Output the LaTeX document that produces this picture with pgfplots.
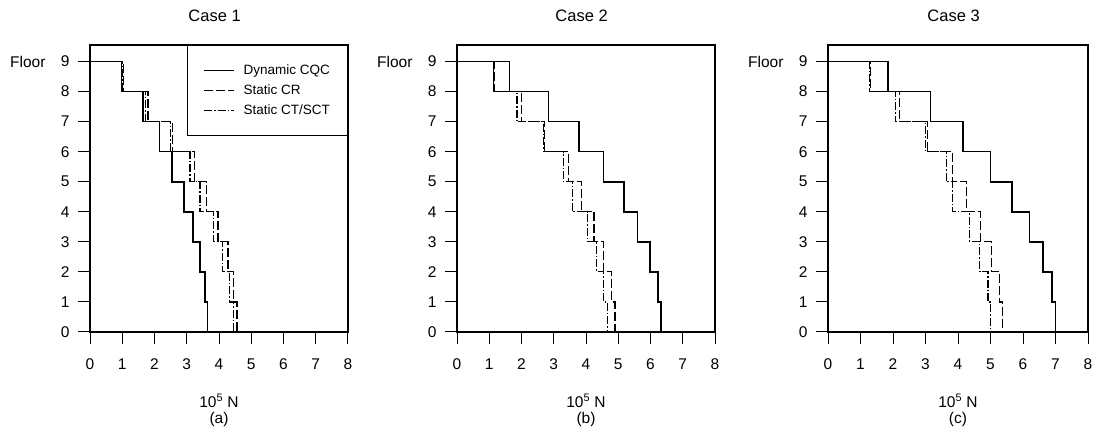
\documentclass[border=0pt]{standalone}
\usepackage{pgfplots}
\pgfplotsset{compat=1.18}
\usepackage{fontspec}
\setmainfont{Liberation Sans}
\pgfplotsset{
  panel/.style={
    width=258pt, height=287pt, scale only axis, anchor=south west,
    xmin=0, xmax=8, ymin=0, ymax=9.55,
    xtick={0,1,...,8}, ytick={0,1,...,9},
    tick pos=left, tick align=outside, major tick length=12pt,
    tick style={black, line width=1pt},
    axis line style={black, line width=1.3pt},
    /pgf/number format/assume math mode=true,
    ticklabel style={font=\fontsize{15.5}{17}\selectfont},
    xticklabel style={yshift=-11pt},
    yticklabel style={xshift=-5pt},
    xlabel style={align=center, font=\fontsize{15.5}{17}\selectfont, yshift=-18pt},
    title style={font=\fontsize{16.5}{18}\selectfont, at={(0.483,1)}, anchor=south, yshift=14pt},
    clip=false,
  },
  dyn/.style={black, line width=1.6pt},
  scr/.style={black, line width=1.2pt, dash pattern=on 9pt off 3pt},
  sct/.style={black, line width=1.2pt, dash pattern=on 8pt off 2pt on 1.5pt off 2pt},
}
\begin{document}
\begin{tikzpicture}
\useasboundingbox (0pt,0pt) rectangle (1097pt,439pt);

% Case 1
\begin{axis}[panel, at={(90pt,107pt)}, title={Case 1}, xlabel={10\textsuperscript{5} N\\[-1pt](a)},
  legend style={at={(1,1)}, anchor=north east, draw=black, line width=1.2pt,
    font=\fontsize{13.5}{15}\selectfont, inner xsep=16pt, inner ysep=17pt, row sep=4pt,
    nodes={inner sep=1.5pt, text height=10pt, text depth=3pt}},
  legend cell align=left,
  legend image code/.code={\draw[#1] (0pt,0pt) -- (30pt,0pt); \path (37pt,0pt);}]
\addplot[dyn] coordinates {(0,9) (0.98,9) (0.98,8) (1.65,8) (1.65,7) (2.15,7) (2.15,6) (2.55,6) (2.55,5) (2.92,5) (2.92,4) (3.2,4) (3.2,3) (3.41,3) (3.41,2) (3.56,2) (3.56,1) (3.64,1) (3.64,0)};
\addlegendentry{Dynamic CQC}
\addplot[scr] coordinates {(0,9) (1.05,9) (1.05,8) (1.8,8) (1.8,7) (2.55,7) (2.55,6) (3.25,6) (3.25,5) (3.61,5) (3.61,4) (3.97,4) (3.97,3) (4.28,3) (4.28,2) (4.44,2) (4.44,1) (4.56,1) (4.56,0)};
\addlegendentry{Static CR}
\addplot[sct] coordinates {(0,9) (1.01,9) (1.01,8) (1.73,8) (1.73,7) (2.5,7) (2.5,6) (3.1,6) (3.1,5) (3.41,5) (3.41,4) (3.84,4) (3.84,3) (4.11,3) (4.11,2) (4.33,2) (4.33,1) (4.44,1) (4.44,0)};
\addlegendentry{Static CT/SCT}
\node[anchor=east, font=\fontsize{15.5}{17}\selectfont] at (axis cs:0,9) [xshift=-41pt] {Floor};
\end{axis}

% Case 2
\begin{axis}[panel, at={(457pt,107pt)}, title={Case 2}, xlabel={10\textsuperscript{5} N\\[-1pt](b)}]
\addplot[dyn] coordinates {(0,9) (1.63,9) (1.63,8) (2.84,8) (2.84,7) (3.79,7) (3.79,6) (4.54,6) (4.54,5) (5.18,5) (5.18,4) (5.6,4) (5.6,3) (5.99,3) (5.99,2) (6.24,2) (6.24,1) (6.32,1) (6.32,0)};
\addplot[scr] coordinates {(0,9) (1.15,9) (1.15,8) (2.01,8) (2.01,7) (2.72,7) (2.72,6) (3.46,6) (3.46,5) (3.87,5) (3.87,4) (4.25,4) (4.25,3) (4.54,3) (4.54,2) (4.8,2) (4.8,1) (4.9,1) (4.9,0)};
\addplot[sct] coordinates {(0,9) (1.12,9) (1.12,8) (1.86,8) (1.86,7) (2.68,7) (2.68,6) (3.3,6) (3.3,5) (3.58,5) (3.58,4) (4.05,4) (4.05,3) (4.33,3) (4.33,2) (4.54,2) (4.54,1) (4.66,1) (4.66,0)};
\node[anchor=east, font=\fontsize{15.5}{17}\selectfont] at (axis cs:0,9) [xshift=-41pt] {Floor};
\end{axis}

% Case 3
\begin{axis}[panel, width=260pt, at={(828pt,107pt)}, title={Case 3}, xlabel={10\textsuperscript{5} N\\[-1pt](c)}]
\addplot[dyn] coordinates {(0,9) (1.85,9) (1.85,8) (3.15,8) (3.15,7) (4.15,7) (4.15,6) (5.0,6) (5.0,5) (5.67,5) (5.67,4) (6.2,4) (6.2,3) (6.62,3) (6.62,2) (6.9,2) (6.9,1) (7.0,1) (7.0,0)};
\addplot[scr] coordinates {(0,9) (1.3,9) (1.3,8) (2.2,8) (2.2,7) (3.05,7) (3.05,6) (3.82,6) (3.82,5) (4.26,5) (4.26,4) (4.7,4) (4.7,3) (5.03,3) (5.03,2) (5.28,2) (5.28,1) (5.38,1) (5.38,0)};
\addplot[sct] coordinates {(0,9) (1.27,9) (1.27,8) (2.07,8) (2.07,7) (3.0,7) (3.0,6) (3.64,6) (3.64,5) (3.82,5) (3.82,4) (4.36,4) (4.36,3) (4.67,3) (4.67,2) (4.92,2) (4.92,1) (5.0,1) (5.0,0)};
\node[anchor=east, font=\fontsize{15.5}{17}\selectfont] at (axis cs:0,9) [xshift=-41pt] {Floor};
\end{axis}
\end{tikzpicture}
\end{document}
